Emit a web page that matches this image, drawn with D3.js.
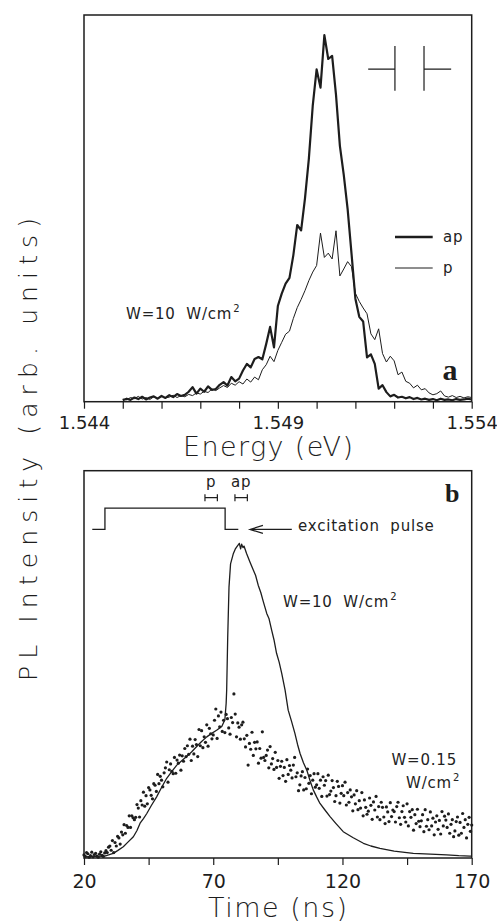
<!DOCTYPE html>
<html>
<head>
<meta charset="utf-8">
<script src="https://cdn.jsdelivr.net/npm/d3@7"></script>
<style>
  body { margin: 0; background: #fff; }
  svg { display: block; font-family: 'DejaVu Sans', sans-serif; }
  .note { font-size: 15px; letter-spacing: 0.8px; word-spacing: 5px; fill: #222; }
  .title { font-weight: 300; }
</style>
</head>
<body>
<div id="chart"></div>
<script>
// ---- panel a: PL spectra, sampled every 0.1 meV from 1.545 eV ----
const energyStart = 1.545;
const energyStep = 0.0001;
const apCounts = [
  0.2, 0.6, 0.3, 0.9, 0.5, 1.1, 0.4, 0.9, 1.2, 0.6, 1.3, 0.8, 1.5, 1.0, 1.8, 1.3, 1.6, 2.4,
  3.6, 1.9, 3.2, 2.4, 3.8, 2.9, 3.1, 4.2, 4.9, 4.0, 6.2, 5.1,
  5.8, 7.9, 9.6, 8.7, 10.9, 11.4, 10.8, 14.8, 19.2, 13.9,
  24.6, 27.8, 30.4, 31.9, 37.8, 45.6, 44.2, 52.5, 62.8, 76.5,
  85.9, 81.2, 94.8, 88.6, 89.4, 79.3, 66.1, 58.6, 49.7, 38.2,
  26.5, 21.8, 20.6, 11.3, 12.1, 9.6, 3.2, 4.1, 2.3, 1.2,
  1.6, 0.9, 1.1, 0.7, 1.0, 0.5, 0.8, 0.4, 0.6, 0.3,
  0.5, 0.2, 0.6, 0.3, 0.4, 0.2, 0.5, 0.3, 0.4, 0.6, 0.4
];
const pCounts = [
  0.5, 0.3, 0.9, 0.6, 1.2, 0.5, 0.9, 0.4, 1.1, 0.7, 1.3, 0.8, 1.0, 1.5, 0.9, 1.4, 1.1, 1.7,
  1.4, 2.1, 1.8, 2.5, 2.2, 3.1, 2.7, 3.4, 4.0, 3.5, 4.6, 4.1,
  5.0, 4.4, 5.7, 4.9, 6.2, 5.5, 8.1, 9.4, 11.6, 10.2,
  13.1, 15.2, 17.3, 18.1, 21.4, 24.2, 26.3, 28.6, 31.2, 33.4,
  35.1, 43.5, 37.2, 38.3, 36.8, 44.1, 32.4, 34.2, 36.1, 34.8,
  27.9, 25.8, 24.1, 22.6, 17.4, 15.9, 18.7, 12.3, 10.1, 11.6,
  10.4, 6.8, 7.5, 5.1, 4.6, 3.4, 4.1, 2.9, 3.2, 2.1,
  1.6, 1.9, 2.6, 1.3, 1.0, 1.4, 0.9, 1.2, 0.8, 1.1, 0.9
];
const energyTicks = [1.544, 1.545, 1.546, 1.547, 1.548, 1.549, 1.550, 1.551, 1.552, 1.553, 1.554];
const energyLabels = [1.544, 1.549, 1.554];

// ---- panel b: time traces ----
const strongTime = [20, 24, 28, 29.5, 31.3, 33, 35.2, 37, 39.1, 40.5, 41.7, 43, 44.3, 46, 48.1, 50, 52, 54,
  55.9, 57.8, 59.7, 61.6, 63.6, 65.5, 67.5, 69.4, 71.3, 73.3, 74.5, 75.0, 75.2, 75.6, 76.1, 76.7,
  77.8, 78.5, 79.1, 80.1, 80.6, 81.0, 81.5, 81.9, 82.9, 84.2, 85.5, 86.4, 87.4, 88.4, 89.4, 90.7,
  91.6, 92.6, 93.5, 94.5, 95.5, 96.5, 97.8, 99, 100.3, 101.6, 102.6, 103.6, 104.9, 106.2, 107.5,
  108.7, 110, 111.3, 113, 115.2, 117.5, 120.3, 124, 128.1, 131, 134.5, 140, 147.4, 154, 160.3,
  165, 169.3, 170];
const strongPL = [0.3, 0.4, 0.5, 0.8, 1.2, 1.9, 2.9, 4.1, 5.5, 7.1, 9, 10.2, 11.5, 13.5, 15.8, 18.2, 20.6, 22.4,
  24, 25.1, 26.2, 27.4, 28.8, 30.1, 31.3, 32.2, 33, 34, 35.7, 40, 43.4, 57, 70, 76,
  78.7, 79.8, 80.4, 81.3, 79.9, 81.1, 80.2, 80.6, 78.7, 76.5, 74.4, 73, 70.5, 68.6, 66.2, 63.2,
  61.8, 58.9, 56.4, 52.9, 50.6, 47.7, 43.4, 38.2, 35.3, 32.2, 29.4, 27, 24.6, 22.7, 19.9,
  17.6, 15.8, 14.1, 12.6, 10.7, 8.9, 6.8, 5.3, 3.8, 3.1, 2.5, 1.8, 1.2, 1.0, 0.8,
  0.6, 0.5, 0.5];

// weak excitation, one point every 0.5 ns from 20 ns
const weakStart = 20;
const weakStep = 0.5;
const weakPL = [
  0.8, 0.4, 1.4, 1.1, 0.2, 0.6, 1.5, 0.3, 0.9, 1.2, 0.5, 0.2, 1.0, 1.6, 0.7, 0.4, 1.3, 1.9, 1.4, 2.8,
  3.1, 2.0, 4.5, 1.4, 4.0, 3.1, 5.6, 5.2, 3.6, 6.7, 6.0, 8.6, 6.4, 8.4, 7.9, 10.9, 7.9, 10.9, 10.4, 9.9,
  10.5, 13.8, 12.9, 10.6, 14.8, 13.7, 17.0, 13.4, 16.1, 14.0, 18.2, 17.6, 16.2, 15.3, 19.2, 18.8, 17.2, 21.6, 19.2, 21.1,
  20.1, 18.4, 22.0, 23.3, 24.8, 19.6, 22.8, 24.3, 22.4, 21.8, 26.0, 21.9, 25.3, 24.5, 26.6, 22.7, 26.4, 25.0, 28.3, 26.2,
  29.0, 26.8, 30.7, 25.2, 28.9, 26.9, 30.6, 29.3, 26.2, 33.2, 29.0, 32.9, 28.5, 31.3, 29.9, 34.4, 28.9, 33.5, 32.1, 30.8,
  31.8, 35.6, 38.5, 30.9, 36.7, 33.9, 37.7, 32.7, 35.6, 32.4, 37.1, 36.0, 33.6, 32.0, 36.3, 35.0, 42.4, 37.2, 31.3, 34.9,
  33.8, 30.7, 34.4, 35.1, 30.8, 28.7, 31.7, 24.0, 29.6, 28.1, 32.5, 26.5, 29.9, 28.2, 30.0, 24.5, 28.3, 25.8, 32.6, 26.0,
  25.2, 26.5, 27.9, 23.3, 28.8, 24.3, 25.7, 22.9, 27.3, 23.4, 25.2, 20.6, 23.7, 25.0, 21.3, 23.4, 19.8, 25.4, 21.6, 23.9,
  22.7, 20.7, 24.0, 26.0, 21.0, 22.0, 17.4, 18.9, 21.2, 22.3, 17.6, 20.8, 17.9, 23.0, 19.3, 21.3, 16.6, 20.1, 21.8, 18.3,
  18.9, 21.8, 18.0, 20.1, 15.9, 21.0, 18.8, 20.0, 16.0, 21.4, 16.4, 17.3, 20.0, 18.2, 14.6, 16.1, 19.8, 18.5, 14.2, 16.7,
  18.7, 16.1, 19.6, 13.7, 16.9, 14.4, 17.6, 15.8, 12.2, 16.3, 14.0, 17.4, 12.5, 14.8, 12.9, 16.9, 10.9, 15.0, 13.1, 11.3,
  12.1, 15.5, 13.6, 10.0, 14.5, 12.4, 15.9, 10.6, 13.3, 9.9, 14.4, 13.1, 10.6, 8.9, 13.2, 11.9, 9.4, 14.3, 10.7, 12.4,
  12.0, 9.3, 13.3, 14.4, 10.4, 8.7, 12.0, 13.5, 10.5, 9.3, 14.0, 8.3, 12.0, 10.5, 12.5, 7.2, 11.2, 8.9, 12.6, 9.5,
  8.1, 9.6, 11.2, 6.8, 12.5, 8.2, 9.9, 7.3, 11.9, 8.3, 10.3, 6.0, 9.3, 10.9, 7.4, 9.7, 6.2, 12.0, 8.3, 10.8,
  9.8, 7.9, 11.4, 6.4, 8.7, 9.9, 5.5, 7.0, 9.4, 10.6, 5.9, 9.2, 6.4, 11.5, 7.9, 9.9, 5.2, 8.7, 10.5, 6.9, 8.5
];

// excitation pulse trace and detection gates
const pulseTime = [23.2, 28.1, 28.1, 74.6, 74.6, 79.7];
const pulseLevel = [84.9, 84.9, 90.4, 90.4, 84.9, 84.9];
const gateNames = ['p', 'ap'];
const gateFrom = [66.8, 78.4];
const gateTo = [71.6, 83.2];

const timeTicks = [20, 45, 70, 95, 120, 145, 170];
const timeLabels = [20, 70, 120, 170];

const energy = apCounts.map((_, i) => energyStart + i * energyStep);
const weakTime = weakPL.map((_, i) => weakStart + i * weakStep);

const width = 497, height = 924;
const ink = '#1d1d1d';

const svg = d3.select('#chart').append('svg')
  .attr('width', width)
  .attr('height', height);

const panelA = { left: 84, right: 471.7, top: 15, bottom: 401.7 };
const panelB = { left: 84, right: 471.7, top: 470.7, bottom: 858 };

const xE = d3.scaleLinear().domain([1.544, 1.554]).range([panelA.left, panelA.right]);
const yA = d3.scaleLinear().domain([0, 100]).range([401, 15]);
const xT = d3.scaleLinear().domain([20, 170]).range([panelB.left, panelB.right]);
const yB = d3.scaleLinear().domain([0, 100]).range([858, 471]);

// Frames
[panelA, panelB].forEach(p => {
  svg.append('rect')
    .attr('x', p.left).attr('y', p.top)
    .attr('width', p.right - p.left).attr('height', p.bottom - p.top)
    .attr('fill', 'none').attr('stroke', ink).attr('stroke-width', 1.5);
});

function styleAxis(g, labelY) {
  g.select('.domain').remove();
  g.selectAll('.tick line').attr('stroke', ink).attr('stroke-width', 1.2);
  g.selectAll('.tick text')
    .attr('y', labelY).attr('dy', 0)
    .attr('fill', ink)
    .attr('font-size', 18)
    .attr('font-family', "'DejaVu Sans', sans-serif");
}

// Axis a
const axisA = svg.append('g')
  .attr('transform', `translate(0,${panelA.bottom})`)
  .call(d3.axisBottom(xE).tickValues(energyTicks).tickSize(7).tickSizeOuter(0)
    .tickFormat(d => energyLabels.some(v => Math.abs(v - d) < 1e-9) ? d3.format('.3f')(d) : ''));
styleAxis(axisA, 27);

// Axis b
const axisB = svg.append('g')
  .attr('transform', `translate(0,${panelB.bottom})`)
  .call(d3.axisBottom(xT).tickValues(timeTicks).tickSize(7).tickSizeOuter(0)
    .tickFormat(d => timeLabels.includes(d) ? d : ''));
styleAxis(axisB, 30);
axisB.selectAll('.tick text').attr('font-size', 19);

// Axis titles
svg.append('text')
  .attr('class', 'title')
  .attr('x', 268).attr('y', 456)
  .attr('text-anchor', 'middle')
  .attr('font-size', 27).attr('fill', ink)
  .attr('textLength', 170).attr('lengthAdjust', 'spacing')
  .text('Energy (eV)');

svg.append('text')
  .attr('class', 'title')
  .attr('x', 277.5).attr('y', 916.5)
  .attr('text-anchor', 'middle')
  .attr('font-size', 27).attr('fill', ink)
  .attr('textLength', 139).attr('lengthAdjust', 'spacing')
  .text('Time (ns)');

svg.append('text')
  .attr('class', 'title')
  .attr('transform', 'translate(37,449.5) rotate(-90)')
  .attr('text-anchor', 'middle')
  .attr('font-size', 25).attr('fill', ink)
  .attr('textLength', 463).attr('lengthAdjust', 'spacing')
  .text('PL Intensity (arb. units)');

// Spectra
const spectrum = d3.line()
  .x((d, i) => xE(energy[i]))
  .y(d => yA(d));

svg.append('path')
  .datum(pCounts)
  .attr('d', spectrum)
  .attr('fill', 'none').attr('stroke', ink).attr('stroke-width', 1)
  .attr('stroke-linejoin', 'round');

svg.append('path')
  .datum(apCounts)
  .attr('d', spectrum)
  .attr('fill', 'none').attr('stroke', ink).attr('stroke-width', 2.2)
  .attr('stroke-linejoin', 'round');

// Legend a
const legend = [
  { name: 'ap', width: 2.4, y: 237 },
  { name: 'p', width: 1, y: 268 }
];
legend.forEach(l => {
  svg.append('line')
    .attr('x1', 395).attr('x2', 432.7)
    .attr('y1', l.y).attr('y2', l.y)
    .attr('stroke', ink).attr('stroke-width', l.width);
  svg.append('text')
    .attr('class', 'note')
    .attr('x', 443).attr('y', l.y + 4.5)
    .text(l.name);
});

// Polarizer-style marks in the corner of panel a
const markLevel = 86;
const markTop = 92;
const markBottom = 80.4;
svg.append('path')
  .attr('d', [
    `M${xE(1.55133)},${yA(markLevel)}H${xE(1.55202)}`,
    `M${xE(1.55202)},${yA(markTop)}V${yA(markBottom)}`,
    `M${xE(1.55277)},${yA(markTop)}V${yA(markBottom)}`,
    `M${xE(1.55277)},${yA(markLevel)}H${xE(1.55347)}`
  ].join(''))
  .attr('fill', 'none').attr('stroke', ink).attr('stroke-width', 1.2);

function powerLabel(x, y, main, anchor) {
  const t = svg.append('text')
    .attr('class', 'note')
    .attr('x', x).attr('y', y)
    .attr('text-anchor', anchor || 'start');
  t.append('tspan').text(main);
  t.append('tspan').attr('dy', -7).attr('font-size', 10).attr('dx', 1).text('2');
  return t;
}

powerLabel(126, 318.5, 'W=10  W/cm');

svg.append('text')
  .attr('x', 442.5).attr('y', 380)
  .attr('font-family', "'Liberation Serif', serif")
  .attr('font-weight', 700).attr('font-size', 30).attr('fill', ink)
  .text('a');

// Panel b
svg.append('text')
  .attr('x', 445).attr('y', 501.5)
  .attr('font-family', "'Liberation Serif', serif")
  .attr('font-weight', 700).attr('font-size', 26).attr('fill', ink)
  .text('b');

const pulse = d3.line()
  .x((d, i) => xT(pulseTime[i]))
  .y(d => yB(d));

svg.append('path')
  .datum(pulseLevel)
  .attr('d', pulse)
  .attr('fill', 'none').attr('stroke', ink).attr('stroke-width', 1.3);

// arrow pointing at the pulse end
const arrowY = yB(84.9);
const arrowTip = xT(84.2);
svg.append('path')
  .attr('d', `M${xT(100.4)},${arrowY}H${arrowTip}M${arrowTip + 13},${arrowY - 4}L${arrowTip},${arrowY}L${arrowTip + 13},${arrowY + 4}`)
  .attr('fill', 'none').attr('stroke', ink).attr('stroke-width', 1.2);

svg.append('text')
  .attr('class', 'note')
  .attr('x', 298).attr('y', 531)
  .text('excitation pulse');

// gates
const gateY = yB(93.1);
gateNames.forEach((name, i) => {
  const x1 = xT(gateFrom[i]), x2 = xT(gateTo[i]);
  svg.append('path')
    .attr('d', `M${x1},${gateY}H${x2}M${x1},${gateY - 3.5}V${gateY + 3.5}M${x2},${gateY - 3.5}V${gateY + 3.5}`)
    .attr('fill', 'none').attr('stroke', ink).attr('stroke-width', 1.2);
  svg.append('text')
    .attr('class', 'note')
    .attr('x', (x1 + x2) / 2).attr('y', gateY - 11)
    .attr('text-anchor', 'middle')
    .text(name);
});

const trace = d3.line()
  .x((d, i) => xT(strongTime[i]))
  .y(d => yB(d));

svg.append('path')
  .datum(strongPL)
  .attr('d', trace)
  .attr('fill', 'none').attr('stroke', ink).attr('stroke-width', 1.3)
  .attr('stroke-linejoin', 'round');

svg.append('g')
  .selectAll('circle')
  .data(weakPL)
  .join('circle')
  .attr('cx', (d, i) => xT(weakTime[i]))
  .attr('cy', d => yB(d))
  .attr('r', 1.6)
  .attr('fill', ink);

powerLabel(283, 606.5, 'W=10  W/cm');

svg.append('text')
  .attr('class', 'note')
  .attr('x', 457).attr('y', 765)
  .attr('text-anchor', 'end')
  .text('W=0.15');

powerLabel(406, 787.5, 'W/cm');
</script>
</body>
</html>
